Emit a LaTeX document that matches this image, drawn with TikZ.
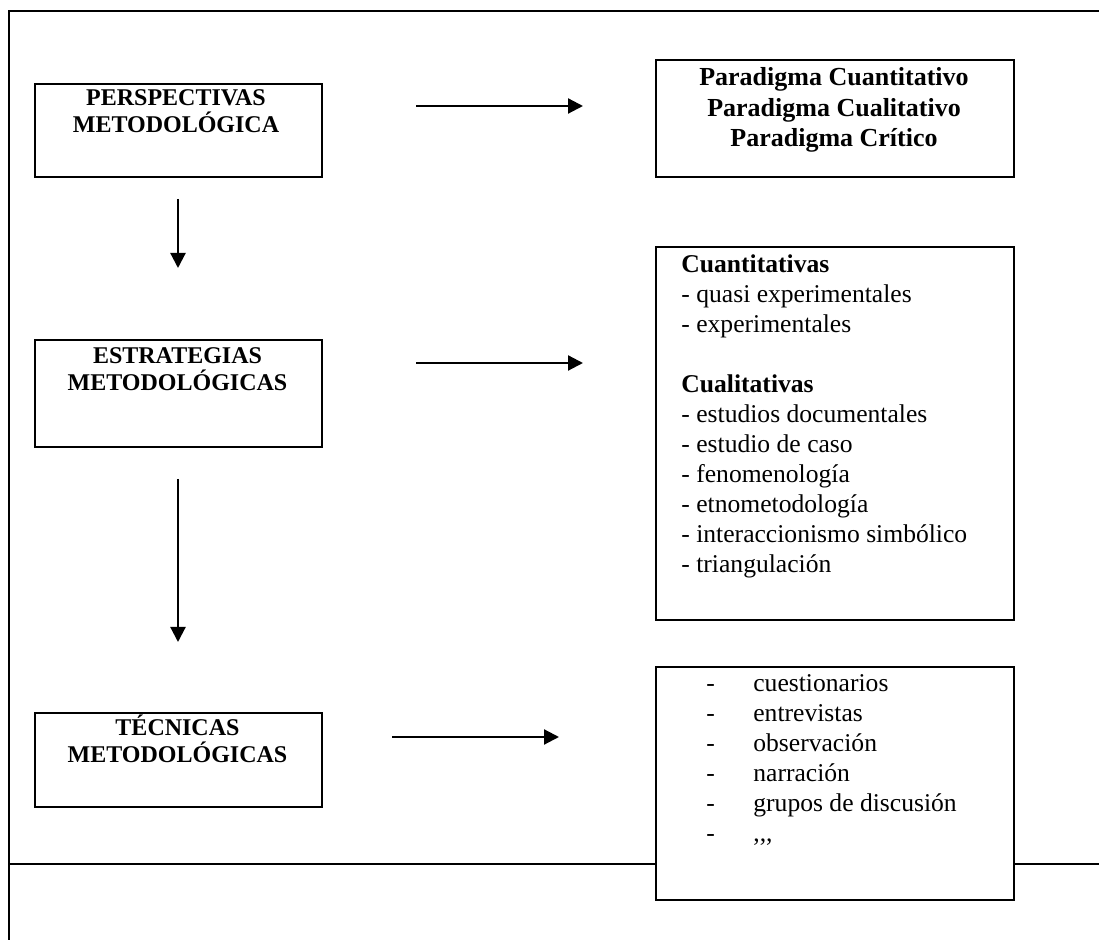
\documentclass[tikz,border=0pt]{standalone}
\usepackage{fontspec}
\setmainfont{Liberation Serif}
\usetikzlibrary{arrows.meta}
\begin{document}
\begin{tikzpicture}[x=0.5pt,y=-0.5pt,
  framerule/.style={line width=1.1pt},
  box/.style={draw, line width=0.9pt, fill=white, anchor=north west, inner sep=0pt},
  title/.style={anchor=base, inner sep=0pt, font=\bfseries},
  listtext/.style={anchor=base west, inner sep=0pt},
  arr/.style={line width=1.1pt, -{Triangle[length=7.5pt,width=7.5pt]}},
]
\useasboundingbox (0,0) rectangle (1099,940);

% page frame and rule
\draw[framerule] (1099,11) -- (9,11) -- (9,940);
\draw[line width=0.6pt] (9,864) -- (1099,864);

% left column
\node[box, minimum width=143.5pt, minimum height=46.5pt] (persp) at (34,83) {};
\node[title] (persptxt) at (176,106)
  {\parbox[t]{140pt}{\fontsize{12}{13.25}\selectfont\centering PERSPECTIVAS\\METODOLÓGICA}};

\node[box, minimum width=143.5pt, minimum height=53.5pt] (estr) at (34,339) {};
\node[title] (estrtxt) at (177.5,364)
  {\parbox[t]{140pt}{\fontsize{12}{13.5}\selectfont\centering ESTRATEGIAS\\METODOLÓGICAS}};

\node[box, minimum width=143.5pt, minimum height=47pt] (tecn) at (34,712) {};
\node[title] (tecntxt) at (177.5,736)
  {\parbox[t]{140pt}{\fontsize{12}{13.5}\selectfont\centering TÉCNICAS\\METODOLÓGICAS}};

% right column
\node[box, minimum width=179pt, minimum height=58.5pt] (parad) at (655,59) {};
\node[title] (paradtxt) at (834,86)
  {\parbox[t]{175pt}{\fontsize{13}{15.25}\selectfont\centering Paradigma Cuantitativo\\Paradigma Cualitativo\\Paradigma Crítico}};

\node[box, minimum width=179pt, minimum height=186.5pt] (estrlist) at (655,246) {};
\node[listtext] (estrlisttxt) at (681,273)
  {\parbox[t]{165pt}{\fontsize{12.8}{15}\selectfont
   \textbf{Cuantitativas}\\
   - quasi experimentales\\
   - experimentales\\[15pt]
   \textbf{Cualitativas}\\
   - estudios documentales\\
   - estudio de caso\\
   - fenomenología\\
   - etnometodología\\
   - interaccionismo simbólico\\
   - triangulación}};

\node[box, minimum width=179pt, minimum height=116.5pt] (tecnlist) at (655,666) {};
\node[listtext] (tecnlisttxt) at (706,692)
  {\parbox[t]{150pt}{\fontsize{12.8}{15}\selectfont
   \makebox[23.5pt][l]{-}cuestionarios\\
   \makebox[23.5pt][l]{-}entrevistas\\
   \makebox[23.5pt][l]{-}observación\\
   \makebox[23.5pt][l]{-}narración\\
   \makebox[23.5pt][l]{-}grupos de discusión\\
   \makebox[23.5pt][l]{-},{},{},}};

% arrow ends
\coordinate (a1s) at (416,106);  \coordinate (a1e) at (583,106);
\coordinate (a2s) at (416,363);  \coordinate (a2e) at (583,363);
\coordinate (a3s) at (392,737);  \coordinate (a3e) at (559,737);
\coordinate (d1s) at (178,199);  \coordinate (d1e) at (178,268);
\coordinate (d2s) at (178,479);  \coordinate (d2e) at (178,642);

\draw[arr] (a1s) -- (a1e);
\draw[arr] (a2s) -- (a2e);
\draw[arr] (a3s) -- (a3e);
\draw[arr] (d1s) -- (d1e);
\draw[arr] (d2s) -- (d2e);
\end{tikzpicture}
\end{document}
